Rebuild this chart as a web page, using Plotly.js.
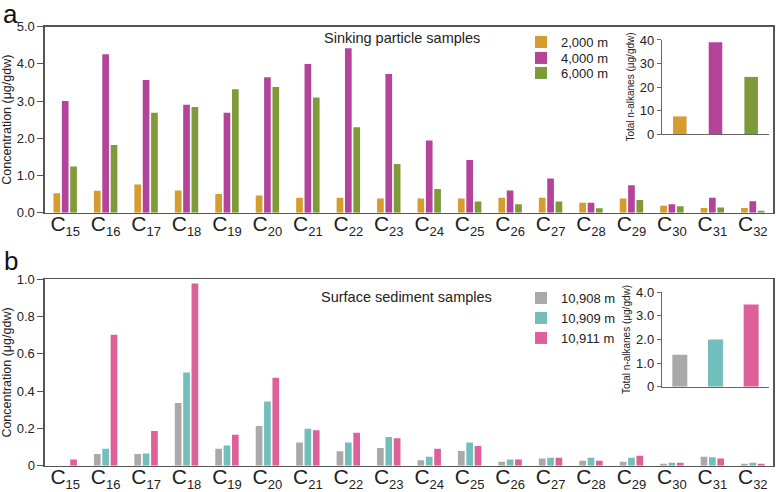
<!DOCTYPE html>
<html>
<head>
<meta charset="utf-8">
<script src="https://cdn.plot.ly/plotly-3.0.1.min.js"></script>
<style>html,body{margin:0;padding:0;background:#fff;}#chart{width:778px;height:492px;}</style>
</head>
<body>
<div id="chart"></div>
<script>
// ---- data ----
var carbonNumbers = [15,16,17,18,19,20,21,22,23,24,25,26,27,28,29,30,31,32];
var categories = carbonNumbers.map(function(n){ return 'C' + n; });

// Panel a: sinking particle samples (µg/gdw)
var sink2000 = [0.52,0.59,0.76,0.60,0.50,0.46,0.40,0.40,0.385,0.385,0.385,0.40,0.40,0.27,0.385,0.19,0.125,0.125];
var sink4000 = [3.00,4.26,3.57,2.90,2.69,3.64,4.00,4.42,3.73,1.94,1.42,0.60,0.92,0.27,0.74,0.23,0.40,0.31];
var sink6000 = [1.24,1.82,2.69,2.84,3.32,3.38,3.10,2.30,1.31,0.64,0.30,0.23,0.30,0.12,0.34,0.17,0.14,0.05];
var sinkNames = ['2,000 m','4,000 m','6,000 m'];
var sinkTotals = [7.5, 39.0, 24.3];

// Panel b: surface sediment samples (µg/gdw)
var sed10908 = [0,0.063,0.063,0.336,0.091,0.213,0.125,0.077,0.095,0.030,0.079,0.021,0.039,0.027,0.021,0.011,0.048,0.011];
var sed10909 = [0,0.091,0.066,0.500,0.109,0.345,0.199,0.125,0.154,0.048,0.125,0.034,0.043,0.043,0.043,0.016,0.045,0.016];
var sed10911 = [0.034,0.703,0.186,0.977,0.166,0.472,0.190,0.177,0.148,0.091,0.106,0.034,0.043,0.027,0.054,0.016,0.039,0.011];
var sedNames = ['10,908 m','10,909 m','10,911 m'];
var sedTotals = [1.35, 2.00, 3.48];

var yTicksA = [0,1,2,3,4,5];
var yTickTextA = ['0.0','1.0','2.0','3.0','4.0','5.0'];
var yTicksB = [0,0.2,0.4,0.6,0.8,1.0];
var yTickTextB = ['0','0.2','0.4','0.6','0.8','1.0'];
var insetTicksA = [0,10,20,30,40];
var insetTicksB = [0,1,2,3,4];
var insetTickTextB = ['0','1.0','2.0','3.0','4.0'];

// ---- styling ----
var sinkColors = ['#D59C2F','#B3449A','#7E9B3A'];
var sedColors = ['#A9A9A9','#72BEBD','#DE6098'];
var FONT = 'Liberation Sans, Arial, sans-serif';
var TXT = '#222';
var LINE = '#555';
var legendX = 521/778;
var legendRowsA = [42, 58, 73];     // pixel row centres of legend a
var legendRowsB = [298, 318, 338];  // pixel row centres of legend b

var tickText = carbonNumbers.map(function(n){
  return 'C<sub><span style="font-size:13px">' + n + '</span></sub>';
});

var traces = [];
var legendDefs = {};
[sink2000, sink4000, sink6000].forEach(function(vals, i){
  var lg = i === 0 ? 'legend' : 'legend' + (i + 1);
  traces.push({type:'bar', x:categories, y:vals, name:sinkNames[i], xaxis:'x', yaxis:'y',
    marker:{color:sinkColors[i]}, legend:lg});
  legendDefs[lg] = legendRowsA[i];
});
[sed10908, sed10909, sed10911].forEach(function(vals, i){
  var lg = 'legend' + (i + 4);
  traces.push({type:'bar', x:categories, y:vals, name:sedNames[i], xaxis:'x2', yaxis:'y2',
    marker:{color:sedColors[i]}, legend:lg});
  legendDefs[lg] = legendRowsB[i];
});
traces.push({type:'bar', x:sinkNames, y:sinkTotals, xaxis:'x3', yaxis:'y3', width:0.38,
  marker:{color:sinkColors}, showlegend:false});
traces.push({type:'bar', x:sedNames, y:sedTotals, xaxis:'x4', yaxis:'y4', width:0.42,
  marker:{color:sedColors}, showlegend:false});

function mainX(anchor, dom){
  return {domain:dom, anchor:anchor, type:'category', range:[-0.5,17.5],
    showline:true, mirror:true, linecolor:LINE, linewidth:1.5, ticks:'', ticklabelstandoff:-8,
    tickmode:'array', tickvals:categories, ticktext:tickText,
    tickfont:{family:FONT, size:21, color:TXT}, showgrid:false, zeroline:false, automargin:false, fixedrange:true};
}
function mainY(anchor, dom, rng, tv, tt){
  return {domain:dom, anchor:anchor, range:rng, tickmode:'array', tickvals:tv, ticktext:tt,
    showline:true, mirror:true, linecolor:LINE, linewidth:1.5, ticks:'outside', ticklen:6, tickcolor:LINE,
    tickfont:{family:FONT, size:13, color:TXT}, showgrid:false, zeroline:false, automargin:false,
    title:{text:'Concentration (μg/gdw)', font:{family:FONT, size:12.5, color:TXT}, standoff:3}, fixedrange:true};
}
function insetX(anchor, dom){
  return {domain:dom, anchor:anchor, type:'category', range:[-0.5,2.5], showline:true, linecolor:'#666',
    linewidth:1.2, ticks:'', showticklabels:false, showgrid:false, zeroline:false, automargin:false, fixedrange:true};
}
function insetY(anchor, dom, rng, tv, tt){
  return {domain:dom, anchor:anchor, range:rng, tickmode:'array', tickvals:tv, ticktext:tt,
    showline:true, linecolor:'#666', linewidth:1.2, ticks:'outside', ticklen:4, tickcolor:'#666',
    tickfont:{family:FONT, size:13, color:TXT}, showgrid:false, zeroline:false, automargin:false,
    title:{text:'Total n-alkanes (μg/gdw)', font:{family:FONT, size:10, color:TXT}, standoff:3}, fixedrange:true};
}

var layout = {
  width:778, height:492, margin:{l:0,r:0,t:0,b:0}, paper_bgcolor:'#fff', plot_bgcolor:'rgba(0,0,0,0)',
  font:{family:FONT, color:TXT},
  barmode:'group', bargap:0.38, bargroupgap:0.2,
  xaxis: mainX('y', [0.0578, 0.9936]),
  yaxis: mainY('x', [0.5677, 0.9457], [0,5], yTicksA, yTickTextA),
  xaxis2: mainX('y2', [0.0578, 0.9936]),
  yaxis2: mainY('x2', [0.0534, 0.4323], [0,1], yTicksB, yTickTextB),
  xaxis3: insetX('y3', [0.8509, 0.9884]),
  yaxis3: insetY('x3', [0.7276, 0.9187], [0,40], insetTicksA, insetTicksA.map(String)),
  xaxis4: insetX('y4', [0.8509, 0.9884]),
  yaxis4: insetY('x4', [0.2140, 0.4059], [0,4], insetTicksB, insetTickTextB),
  annotations:[
    {text:'a', xref:'paper', yref:'paper', x:0.002, y:1, xanchor:'left', yanchor:'top', showarrow:false,
      font:{family:FONT, size:26, color:'#111'}, borderpad:0, yshift:2},
    {text:'b', xref:'paper', yref:'paper', x:0.002, y:1-261/492, xanchor:'left', yanchor:'middle', showarrow:false,
      font:{family:FONT, size:26, color:'#111'}},
    {text:'Sinking particle samples', xref:'paper', yref:'paper', x:402/778, y:1-37.7/492, xanchor:'center', yanchor:'middle',
      showarrow:false, font:{family:FONT, size:14.5, color:TXT}},
    {text:'Surface sediment samples', xref:'paper', yref:'paper', x:406/778, y:1-297/492, xanchor:'center', yanchor:'middle',
      showarrow:false, font:{family:FONT, size:14.5, color:TXT}}
  ]
};
Object.keys(legendDefs).forEach(function(k){
  layout[k] = {x:legendX, y:1 - legendDefs[k]/492, xanchor:'left', yanchor:'middle', bgcolor:'rgba(0,0,0,0)',
    font:{family:FONT, size:13, color:TXT}, itemwidth:30, borderwidth:0};
});

Plotly.newPlot('chart', traces, layout, {staticPlot:true, displayModeBar:false});
</script>
</body>
</html>
